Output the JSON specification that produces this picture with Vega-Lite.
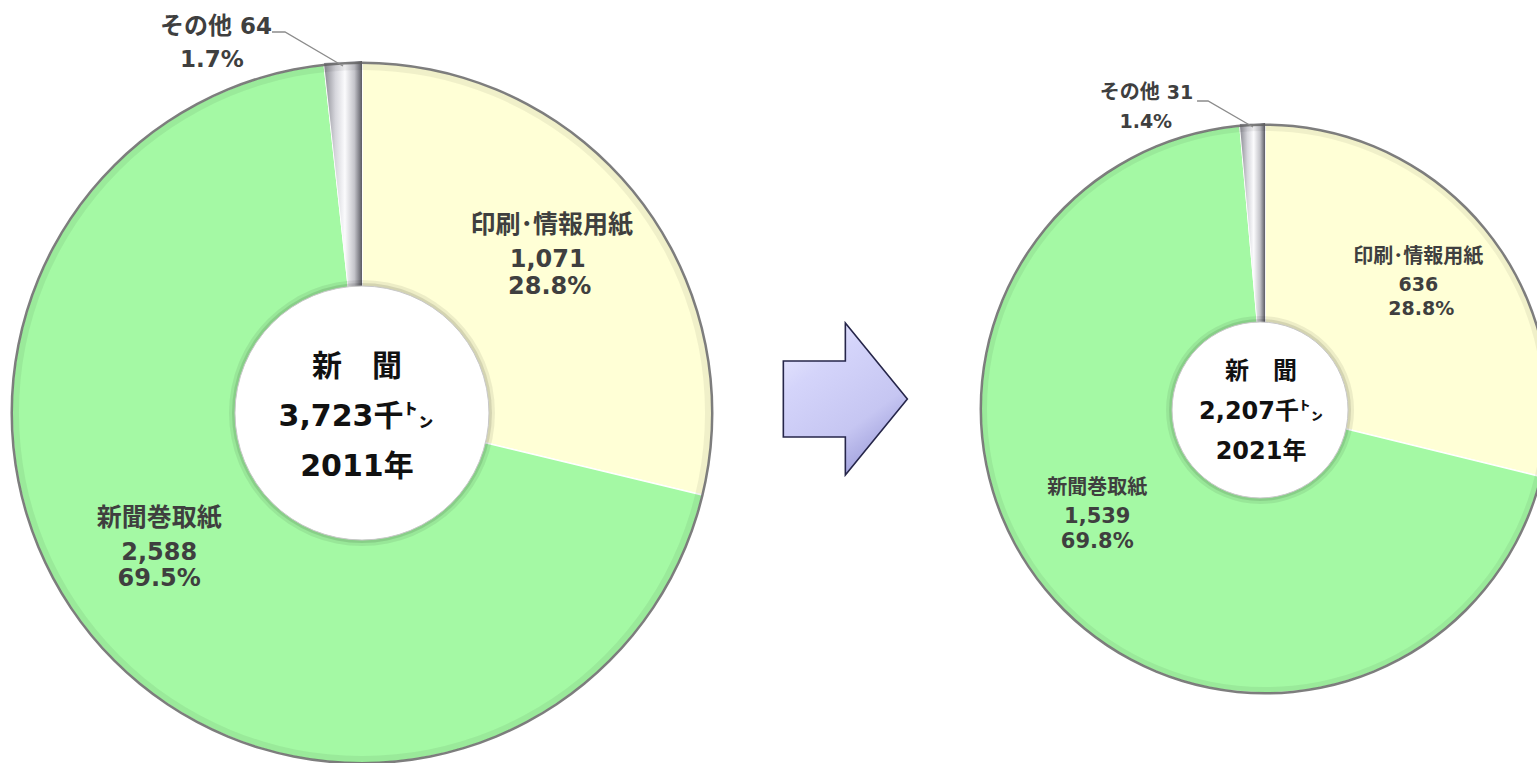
{
  "$schema": "https://vega.github.io/schema/vega-lite/v6.json",
  "width": 1537,
  "height": 700,
  "autosize": {"type": "none"},
  "padding": {"top": 63, "left": 0, "right": 0, "bottom": 0},
  "background": "#ffffff",
  "config": {"view": {"stroke": null}},
  "datasets": {
    "slices": [
      {"year": 2011, "category": "印刷･情報用紙", "value": 1071, "pct": "28.8%", "ord": 1},
      {"year": 2011, "category": "新聞巻取紙", "value": 2588, "pct": "69.5%", "ord": 2},
      {"year": 2011, "category": "その他", "value": 64, "pct": "1.7%", "ord": 3},
      {"year": 2021, "category": "印刷･情報用紙", "value": 636, "pct": "28.8%", "ord": 1},
      {"year": 2021, "category": "新聞巻取紙", "value": 1539, "pct": "69.8%", "ord": 2},
      {"year": 2021, "category": "その他", "value": 31, "pct": "1.4%", "ord": 3}
    ],
    "totals": [
      {"year": 2011, "title": "新　聞", "total": "3,723千㌧", "label": "2011年"},
      {"year": 2021, "title": "新　聞", "total": "2,207千㌧", "label": "2021年"}
    ]
  },
  "resolve": {"scale": {"x": "independent"}},
  "layer": [
    {
      "data": {"name": "slices"},
      "transform": [{"filter": "datum.year === 2011"}],
      "mark": {"type": "arc", "outerRadius": 350, "stroke": "#ffffff", "strokeWidth": 1.5},
      "encoding": {
        "x": {"field": "year", "type": "ordinal", "scale": {"type": "point", "domain": [2011, 2021], "padding": 0.351, "align": 0.571}, "axis": null},
        "theta": {"field": "value", "type": "quantitative", "stack": "normalize", "scale": {"domain": [0, 1]}},
        "order": {"field": "ord", "type": "quantitative"},
        "color": {"field": "category", "type": "nominal", "scale": {"domain": ["印刷･情報用紙", "新聞巻取紙", "その他"], "range": ["#FFFFD6", "#A4F9A4", "#DCDCE0"]}, "legend": null}
      }
    },
    {
      "data": {"name": "slices"},
      "transform": [{"filter": "datum.year === 2011"}],
      "mark": {"type": "arc", "outerRadius": 352, "fill": {"gradient": "linear", "x1": 0, "y1": 0, "x2": 1, "y2": 0, "stops": [{"offset": 0, "color": "#8a8a92"}, {"offset": 0.3, "color": "#d6d6dc"}, {"offset": 0.55, "color": "#fbfbfd"}, {"offset": 0.8, "color": "#c4c4ca"}, {"offset": 1, "color": "#5c5c64"}]}},
      "encoding": {
        "x": {"field": "year", "type": "ordinal", "scale": {"type": "point", "domain": [2011, 2021], "padding": 0.351, "align": 0.571}, "axis": null},
        "theta": {"field": "value", "type": "quantitative", "stack": "normalize", "scale": {"domain": [0, 1]}},
        "order": {"field": "ord", "type": "quantitative"},
        "detail": {"field": "category", "type": "nominal"},
        "fillOpacity": {"condition": {"test": "datum.category === 'その他'", "value": 1}, "value": 0}
      }
    },
    {
      "data": {"name": "totals"},
      "transform": [{"filter": "datum.year === 2011"}],
      "mark": {"type": "arc", "theta": 0, "theta2": 6.2832, "innerRadius": 343, "outerRadius": 350, "fill": "#000000", "fillOpacity": 0.06},
      "encoding": {"x": {"field": "year", "type": "ordinal", "scale": {"type": "point", "domain": [2011, 2021], "padding": 0.351, "align": 0.571}, "axis": null}}
    },
    {
      "data": {"name": "totals"},
      "transform": [{"filter": "datum.year === 2011"}],
      "mark": {"type": "arc", "theta": 0, "theta2": 6.2832, "innerRadius": 349, "outerRadius": 351.5, "fill": "#5e5e5e", "fillOpacity": 0.8},
      "encoding": {"x": {"field": "year", "type": "ordinal", "scale": {"type": "point", "domain": [2011, 2021], "padding": 0.351, "align": 0.571}, "axis": null}}
    },
    {
      "data": {"name": "totals"},
      "transform": [{"filter": "datum.year === 2011"}],
      "mark": {"type": "arc", "theta": 0, "theta2": 6.2832, "outerRadius": 133, "fill": "#000000", "fillOpacity": 0.07},
      "encoding": {"x": {"field": "year", "type": "ordinal", "scale": {"type": "point", "domain": [2011, 2021], "padding": 0.351, "align": 0.571}, "axis": null}}
    },
    {
      "data": {"name": "totals"},
      "transform": [{"filter": "datum.year === 2011"}],
      "mark": {"type": "arc", "theta": 0, "theta2": 6.2832, "outerRadius": 130, "fill": "#000000", "fillOpacity": 0.1},
      "encoding": {"x": {"field": "year", "type": "ordinal", "scale": {"type": "point", "domain": [2011, 2021], "padding": 0.351, "align": 0.571}, "axis": null}}
    },
    {
      "data": {"name": "totals"},
      "transform": [{"filter": "datum.year === 2011"}],
      "mark": {"type": "arc", "theta": 0, "theta2": 6.2832, "outerRadius": 127, "fill": "#ffffff", "stroke": "#c8c8c8", "strokeWidth": 1},
      "encoding": {"x": {"field": "year", "type": "ordinal", "scale": {"type": "point", "domain": [2011, 2021], "padding": 0.351, "align": 0.571}, "axis": null}}
    },
    {
      "data": {"name": "totals"},
      "transform": [{"filter": "datum.year === 2011"}],
      "mark": {"type": "text", "dx": -5, "dy": -46, "fontSize": 30, "fontWeight": "bold", "font": "DejaVu Sans, Noto Sans CJK JP", "color": "#111111", "baseline": "middle", "align": "center"},
      "encoding": {"x": {"field": "year", "type": "ordinal", "scale": {"type": "point", "domain": [2011, 2021], "padding": 0.351, "align": 0.571}, "axis": null}, "text": {"field": "title"}}
    },
    {
      "data": {"name": "totals"},
      "transform": [{"filter": "datum.year === 2011"}],
      "mark": {"type": "text", "dx": -6, "dy": 4, "fontSize": 30, "fontWeight": "bold", "font": "DejaVu Sans, Noto Sans CJK JP", "color": "#111111", "baseline": "middle", "align": "center"},
      "encoding": {"x": {"field": "year", "type": "ordinal", "scale": {"type": "point", "domain": [2011, 2021], "padding": 0.351, "align": 0.571}, "axis": null}, "text": {"field": "total"}}
    },
    {
      "data": {"name": "totals"},
      "transform": [{"filter": "datum.year === 2011"}],
      "mark": {"type": "text", "dx": -5, "dy": 54, "fontSize": 30, "fontWeight": "bold", "font": "DejaVu Sans, Noto Sans CJK JP", "color": "#111111", "baseline": "middle", "align": "center"},
      "encoding": {"x": {"field": "year", "type": "ordinal", "scale": {"type": "point", "domain": [2011, 2021], "padding": 0.351, "align": 0.571}, "axis": null}, "text": {"field": "label"}}
    },
    {
      "data": {"name": "totals"},
      "transform": [{"filter": "datum.year === 2011"}],
      "mark": {"type": "point", "shape": "M-90,-381 L-77,-381 L-19,-347", "size": 4, "filled": false, "stroke": "#8c8c8c", "strokeWidth": 1.3, "opacity": 1},
      "encoding": {"x": {"field": "year", "type": "ordinal", "scale": {"type": "point", "domain": [2011, 2021], "padding": 0.351, "align": 0.571}, "axis": null}}
    },
    {
      "data": {"name": "slices"},
      "transform": [{"filter": "datum.year === 2011"}],
      "mark": {"type": "text", "radius": 244, "dx": -2, "dy": -37, "fontSize": 25, "fontWeight": "bold", "font": "DejaVu Sans, Noto Sans CJK JP", "color": "#3f3f3f", "baseline": "middle", "align": "center"},
      "encoding": {
        "x": {"field": "year", "type": "ordinal", "scale": {"type": "point", "domain": [2011, 2021], "padding": 0.351, "align": 0.571}, "axis": null},
        "theta": {"field": "value", "type": "quantitative", "stack": "normalize", "scale": {"domain": [0, 1]}},
        "order": {"field": "ord", "type": "quantitative"},
        "detail": {"field": "category", "type": "nominal"},
        "text": {"condition": {"test": "datum.category === '印刷･情報用紙'", "field": "category", "type": "nominal"}, "value": ""}
      }
    },
    {
      "data": {"name": "slices"},
      "transform": [{"filter": "datum.year === 2011"}],
      "mark": {"type": "text", "radius": 244, "dx": -6, "dy": -2, "fontSize": 24, "fontWeight": "bold", "font": "DejaVu Sans, Noto Sans CJK JP", "color": "#3f3f3f", "baseline": "middle", "align": "center"},
      "encoding": {
        "x": {"field": "year", "type": "ordinal", "scale": {"type": "point", "domain": [2011, 2021], "padding": 0.351, "align": 0.571}, "axis": null},
        "theta": {"field": "value", "type": "quantitative", "stack": "normalize", "scale": {"domain": [0, 1]}},
        "order": {"field": "ord", "type": "quantitative"},
        "detail": {"field": "category", "type": "nominal"},
        "text": {"condition": {"test": "datum.category === '印刷･情報用紙'", "field": "value", "type": "quantitative", "format": ","}, "value": ""}
      }
    },
    {
      "data": {"name": "slices"},
      "transform": [{"filter": "datum.year === 2011"}],
      "mark": {"type": "text", "radius": 244, "dx": -4, "dy": 25, "fontSize": 24, "fontWeight": "bold", "font": "DejaVu Sans, Noto Sans CJK JP", "color": "#3f3f3f", "baseline": "middle", "align": "center"},
      "encoding": {
        "x": {"field": "year", "type": "ordinal", "scale": {"type": "point", "domain": [2011, 2021], "padding": 0.351, "align": 0.571}, "axis": null},
        "theta": {"field": "value", "type": "quantitative", "stack": "normalize", "scale": {"domain": [0, 1]}},
        "order": {"field": "ord", "type": "quantitative"},
        "detail": {"field": "category", "type": "nominal"},
        "text": {"condition": {"test": "datum.category === '印刷･情報用紙'", "field": "pct", "type": "nominal"}, "value": ""}
      }
    },
    {
      "data": {"name": "slices"},
      "transform": [{"filter": "datum.year === 2011"}],
      "mark": {"type": "text", "radius": 242, "dx": -21, "dy": -55, "fontSize": 25, "fontWeight": "bold", "font": "DejaVu Sans, Noto Sans CJK JP", "color": "#3f3f3f", "baseline": "middle", "align": "center"},
      "encoding": {
        "x": {"field": "year", "type": "ordinal", "scale": {"type": "point", "domain": [2011, 2021], "padding": 0.351, "align": 0.571}, "axis": null},
        "theta": {"field": "value", "type": "quantitative", "stack": "normalize", "scale": {"domain": [0, 1]}},
        "order": {"field": "ord", "type": "quantitative"},
        "detail": {"field": "category", "type": "nominal"},
        "text": {"condition": {"test": "datum.category === '新聞巻取紙'", "field": "category", "type": "nominal"}, "value": ""}
      }
    },
    {
      "data": {"name": "slices"},
      "transform": [{"filter": "datum.year === 2011"}],
      "mark": {"type": "text", "radius": 242, "dx": -21, "dy": -20, "fontSize": 24, "fontWeight": "bold", "font": "DejaVu Sans, Noto Sans CJK JP", "color": "#3f3f3f", "baseline": "middle", "align": "center"},
      "encoding": {
        "x": {"field": "year", "type": "ordinal", "scale": {"type": "point", "domain": [2011, 2021], "padding": 0.351, "align": 0.571}, "axis": null},
        "theta": {"field": "value", "type": "quantitative", "stack": "normalize", "scale": {"domain": [0, 1]}},
        "order": {"field": "ord", "type": "quantitative"},
        "detail": {"field": "category", "type": "nominal"},
        "text": {"condition": {"test": "datum.category === '新聞巻取紙'", "field": "value", "type": "quantitative", "format": ","}, "value": ""}
      }
    },
    {
      "data": {"name": "slices"},
      "transform": [{"filter": "datum.year === 2011"}],
      "mark": {"type": "text", "radius": 242, "dx": -21, "dy": 6, "fontSize": 24, "fontWeight": "bold", "font": "DejaVu Sans, Noto Sans CJK JP", "color": "#3f3f3f", "baseline": "middle", "align": "center"},
      "encoding": {
        "x": {"field": "year", "type": "ordinal", "scale": {"type": "point", "domain": [2011, 2021], "padding": 0.351, "align": 0.571}, "axis": null},
        "theta": {"field": "value", "type": "quantitative", "stack": "normalize", "scale": {"domain": [0, 1]}},
        "order": {"field": "ord", "type": "quantitative"},
        "detail": {"field": "category", "type": "nominal"},
        "text": {"condition": {"test": "datum.category === '新聞巻取紙'", "field": "pct", "type": "nominal"}, "value": ""}
      }
    },
    {
      "data": {"name": "slices"},
      "transform": [{"filter": "datum.year === 2011"}],
      "mark": {"type": "text", "radius": 370, "dx": -110, "dy": -17, "fontSize": 24, "fontWeight": "bold", "font": "DejaVu Sans, Noto Sans CJK JP", "color": "#3f3f3f", "baseline": "middle", "align": "right"},
      "encoding": {
        "x": {"field": "year", "type": "ordinal", "scale": {"type": "point", "domain": [2011, 2021], "padding": 0.351, "align": 0.571}, "axis": null},
        "theta": {"field": "value", "type": "quantitative", "stack": "normalize", "scale": {"domain": [0, 1]}},
        "order": {"field": "ord", "type": "quantitative"},
        "detail": {"field": "category", "type": "nominal"},
        "text": {"condition": {"test": "datum.category === 'その他'", "field": "category", "type": "nominal"}, "value": ""}
      }
    },
    {
      "data": {"name": "slices"},
      "transform": [{"filter": "datum.year === 2011"}],
      "mark": {"type": "text", "radius": 370, "dx": -102, "dy": -17, "fontSize": 23, "fontWeight": "bold", "font": "DejaVu Sans, Noto Sans CJK JP", "color": "#3f3f3f", "baseline": "middle", "align": "left"},
      "encoding": {
        "x": {"field": "year", "type": "ordinal", "scale": {"type": "point", "domain": [2011, 2021], "padding": 0.351, "align": 0.571}, "axis": null},
        "theta": {"field": "value", "type": "quantitative", "stack": "normalize", "scale": {"domain": [0, 1]}},
        "order": {"field": "ord", "type": "quantitative"},
        "detail": {"field": "category", "type": "nominal"},
        "text": {"condition": {"test": "datum.category === 'その他'", "field": "value", "type": "quantitative", "format": ","}, "value": ""}
      }
    },
    {
      "data": {"name": "slices"},
      "transform": [{"filter": "datum.year === 2011"}],
      "mark": {"type": "text", "radius": 370, "dx": -130, "dy": 16, "fontSize": 23, "fontWeight": "bold", "font": "DejaVu Sans, Noto Sans CJK JP", "color": "#3f3f3f", "baseline": "middle", "align": "center"},
      "encoding": {
        "x": {"field": "year", "type": "ordinal", "scale": {"type": "point", "domain": [2011, 2021], "padding": 0.351, "align": 0.571}, "axis": null},
        "theta": {"field": "value", "type": "quantitative", "stack": "normalize", "scale": {"domain": [0, 1]}},
        "order": {"field": "ord", "type": "quantitative"},
        "detail": {"field": "category", "type": "nominal"},
        "text": {"condition": {"test": "datum.category === 'その他'", "field": "pct", "type": "nominal"}, "value": ""}
      }
    },
    {
      "data": {"name": "slices"},
      "transform": [{"filter": "datum.year === 2021"}],
      "mark": {"type": "arc", "outerRadius": 284, "yOffset": -4, "stroke": "#ffffff", "strokeWidth": 1.5},
      "encoding": {
        "x": {"field": "year", "type": "ordinal", "scale": {"type": "point", "domain": [2011, 2021], "padding": 0.351, "align": 0.571}, "axis": null},
        "theta": {"field": "value", "type": "quantitative", "stack": "normalize", "scale": {"domain": [0, 1]}},
        "order": {"field": "ord", "type": "quantitative"},
        "color": {"field": "category", "type": "nominal", "scale": {"domain": ["印刷･情報用紙", "新聞巻取紙", "その他"], "range": ["#FFFFD6", "#A4F9A4", "#DCDCE0"]}, "legend": null}
      }
    },
    {
      "data": {"name": "slices"},
      "transform": [{"filter": "datum.year === 2021"}],
      "mark": {"type": "arc", "outerRadius": 286, "yOffset": -4, "fill": {"gradient": "linear", "x1": 0, "y1": 0, "x2": 1, "y2": 0, "stops": [{"offset": 0, "color": "#8a8a92"}, {"offset": 0.3, "color": "#d6d6dc"}, {"offset": 0.55, "color": "#fbfbfd"}, {"offset": 0.8, "color": "#c4c4ca"}, {"offset": 1, "color": "#5c5c64"}]}},
      "encoding": {
        "x": {"field": "year", "type": "ordinal", "scale": {"type": "point", "domain": [2011, 2021], "padding": 0.351, "align": 0.571}, "axis": null},
        "theta": {"field": "value", "type": "quantitative", "stack": "normalize", "scale": {"domain": [0, 1]}},
        "order": {"field": "ord", "type": "quantitative"},
        "detail": {"field": "category", "type": "nominal"},
        "fillOpacity": {"condition": {"test": "datum.category === 'その他'", "value": 1}, "value": 0}
      }
    },
    {
      "data": {"name": "totals"},
      "transform": [{"filter": "datum.year === 2021"}],
      "mark": {"type": "arc", "theta": 0, "theta2": 6.2832, "innerRadius": 278, "outerRadius": 284, "yOffset": -4, "fill": "#000000", "fillOpacity": 0.06},
      "encoding": {"x": {"field": "year", "type": "ordinal", "scale": {"type": "point", "domain": [2011, 2021], "padding": 0.351, "align": 0.571}, "axis": null}}
    },
    {
      "data": {"name": "totals"},
      "transform": [{"filter": "datum.year === 2021"}],
      "mark": {"type": "arc", "theta": 0, "theta2": 6.2832, "innerRadius": 283, "outerRadius": 285.5, "yOffset": -4, "fill": "#5e5e5e", "fillOpacity": 0.8},
      "encoding": {"x": {"field": "year", "type": "ordinal", "scale": {"type": "point", "domain": [2011, 2021], "padding": 0.351, "align": 0.571}, "axis": null}}
    },
    {
      "data": {"name": "totals"},
      "transform": [{"filter": "datum.year === 2021"}],
      "mark": {"type": "arc", "theta": 0, "theta2": 6.2832, "outerRadius": 94, "xOffset": -5, "yOffset": -3, "fill": "#000000", "fillOpacity": 0.07},
      "encoding": {"x": {"field": "year", "type": "ordinal", "scale": {"type": "point", "domain": [2011, 2021], "padding": 0.351, "align": 0.571}, "axis": null}}
    },
    {
      "data": {"name": "totals"},
      "transform": [{"filter": "datum.year === 2021"}],
      "mark": {"type": "arc", "theta": 0, "theta2": 6.2832, "outerRadius": 91, "xOffset": -5, "yOffset": -3, "fill": "#000000", "fillOpacity": 0.1},
      "encoding": {"x": {"field": "year", "type": "ordinal", "scale": {"type": "point", "domain": [2011, 2021], "padding": 0.351, "align": 0.571}, "axis": null}}
    },
    {
      "data": {"name": "totals"},
      "transform": [{"filter": "datum.year === 2021"}],
      "mark": {"type": "arc", "theta": 0, "theta2": 6.2832, "outerRadius": 88, "xOffset": -5, "yOffset": -3, "fill": "#ffffff", "stroke": "#c8c8c8", "strokeWidth": 1},
      "encoding": {"x": {"field": "year", "type": "ordinal", "scale": {"type": "point", "domain": [2011, 2021], "padding": 0.351, "align": 0.571}, "axis": null}}
    },
    {
      "data": {"name": "totals"},
      "transform": [{"filter": "datum.year === 2021"}],
      "mark": {"type": "text", "dx": -4, "dy": -41, "fontSize": 24, "fontWeight": "bold", "font": "DejaVu Sans, Noto Sans CJK JP", "color": "#111111", "baseline": "middle", "align": "center"},
      "encoding": {"x": {"field": "year", "type": "ordinal", "scale": {"type": "point", "domain": [2011, 2021], "padding": 0.351, "align": 0.571}, "axis": null}, "text": {"field": "title"}}
    },
    {
      "data": {"name": "totals"},
      "transform": [{"filter": "datum.year === 2021"}],
      "mark": {"type": "text", "dx": -4, "dy": -1, "fontSize": 24, "fontWeight": "bold", "font": "DejaVu Sans, Noto Sans CJK JP", "color": "#111111", "baseline": "middle", "align": "center"},
      "encoding": {"x": {"field": "year", "type": "ordinal", "scale": {"type": "point", "domain": [2011, 2021], "padding": 0.351, "align": 0.571}, "axis": null}, "text": {"field": "total"}}
    },
    {
      "data": {"name": "totals"},
      "transform": [{"filter": "datum.year === 2021"}],
      "mark": {"type": "text", "dx": -4, "dy": 39, "fontSize": 24, "fontWeight": "bold", "font": "DejaVu Sans, Noto Sans CJK JP", "color": "#111111", "baseline": "middle", "align": "center"},
      "encoding": {"x": {"field": "year", "type": "ordinal", "scale": {"type": "point", "domain": [2011, 2021], "padding": 0.351, "align": 0.571}, "axis": null}, "text": {"field": "label"}}
    },
    {
      "data": {"name": "totals"},
      "transform": [{"filter": "datum.year === 2021"}],
      "mark": {"type": "point", "shape": "M-68,-312 L-57,-312 L-12,-286", "size": 4, "filled": false, "stroke": "#8c8c8c", "strokeWidth": 1.3, "opacity": 1},
      "encoding": {"x": {"field": "year", "type": "ordinal", "scale": {"type": "point", "domain": [2011, 2021], "padding": 0.351, "align": 0.571}, "axis": null}}
    },
    {
      "data": {"name": "slices"},
      "transform": [{"filter": "datum.year === 2021"}],
      "mark": {"type": "text", "radius": 196, "dx": -1, "dy": -35, "fontSize": 20, "fontWeight": "bold", "font": "DejaVu Sans, Noto Sans CJK JP", "color": "#3f3f3f", "baseline": "middle", "align": "center"},
      "encoding": {
        "x": {"field": "year", "type": "ordinal", "scale": {"type": "point", "domain": [2011, 2021], "padding": 0.351, "align": 0.571}, "axis": null},
        "theta": {"field": "value", "type": "quantitative", "stack": "normalize", "scale": {"domain": [0, 1]}},
        "order": {"field": "ord", "type": "quantitative"},
        "detail": {"field": "category", "type": "nominal"},
        "text": {"condition": {"test": "datum.category === '印刷･情報用紙'", "field": "category", "type": "nominal"}, "value": ""}
      }
    },
    {
      "data": {"name": "slices"},
      "transform": [{"filter": "datum.year === 2021"}],
      "mark": {"type": "text", "radius": 196, "dx": -1, "dy": -7, "fontSize": 19, "fontWeight": "bold", "font": "DejaVu Sans, Noto Sans CJK JP", "color": "#3f3f3f", "baseline": "middle", "align": "center"},
      "encoding": {
        "x": {"field": "year", "type": "ordinal", "scale": {"type": "point", "domain": [2011, 2021], "padding": 0.351, "align": 0.571}, "axis": null},
        "theta": {"field": "value", "type": "quantitative", "stack": "normalize", "scale": {"domain": [0, 1]}},
        "order": {"field": "ord", "type": "quantitative"},
        "detail": {"field": "category", "type": "nominal"},
        "text": {"condition": {"test": "datum.category === '印刷･情報用紙'", "field": "value", "type": "quantitative", "format": ","}, "value": ""}
      }
    },
    {
      "data": {"name": "slices"},
      "transform": [{"filter": "datum.year === 2021"}],
      "mark": {"type": "text", "radius": 196, "dx": 2, "dy": 17, "fontSize": 19, "fontWeight": "bold", "font": "DejaVu Sans, Noto Sans CJK JP", "color": "#3f3f3f", "baseline": "middle", "align": "center"},
      "encoding": {
        "x": {"field": "year", "type": "ordinal", "scale": {"type": "point", "domain": [2011, 2021], "padding": 0.351, "align": 0.571}, "axis": null},
        "theta": {"field": "value", "type": "quantitative", "stack": "normalize", "scale": {"domain": [0, 1]}},
        "order": {"field": "ord", "type": "quantitative"},
        "detail": {"field": "category", "type": "nominal"},
        "text": {"condition": {"test": "datum.category === '印刷･情報用紙'", "field": "pct", "type": "nominal"}, "value": ""}
      }
    },
    {
      "data": {"name": "slices"},
      "transform": [{"filter": "datum.year === 2021"}],
      "mark": {"type": "text", "radius": 200, "dx": -16, "dy": -55, "fontSize": 20, "fontWeight": "bold", "font": "DejaVu Sans, Noto Sans CJK JP", "color": "#3f3f3f", "baseline": "middle", "align": "center"},
      "encoding": {
        "x": {"field": "year", "type": "ordinal", "scale": {"type": "point", "domain": [2011, 2021], "padding": 0.351, "align": 0.571}, "axis": null},
        "theta": {"field": "value", "type": "quantitative", "stack": "normalize", "scale": {"domain": [0, 1]}},
        "order": {"field": "ord", "type": "quantitative"},
        "detail": {"field": "category", "type": "nominal"},
        "text": {"condition": {"test": "datum.category === '新聞巻取紙'", "field": "category", "type": "nominal"}, "value": ""}
      }
    },
    {
      "data": {"name": "slices"},
      "transform": [{"filter": "datum.year === 2021"}],
      "mark": {"type": "text", "radius": 200, "dx": -16, "dy": -26, "fontSize": 21, "fontWeight": "bold", "font": "DejaVu Sans, Noto Sans CJK JP", "color": "#3f3f3f", "baseline": "middle", "align": "center"},
      "encoding": {
        "x": {"field": "year", "type": "ordinal", "scale": {"type": "point", "domain": [2011, 2021], "padding": 0.351, "align": 0.571}, "axis": null},
        "theta": {"field": "value", "type": "quantitative", "stack": "normalize", "scale": {"domain": [0, 1]}},
        "order": {"field": "ord", "type": "quantitative"},
        "detail": {"field": "category", "type": "nominal"},
        "text": {"condition": {"test": "datum.category === '新聞巻取紙'", "field": "value", "type": "quantitative", "format": ","}, "value": ""}
      }
    },
    {
      "data": {"name": "slices"},
      "transform": [{"filter": "datum.year === 2021"}],
      "mark": {"type": "text", "radius": 200, "dx": -16, "dy": -1, "fontSize": 21, "fontWeight": "bold", "font": "DejaVu Sans, Noto Sans CJK JP", "color": "#3f3f3f", "baseline": "middle", "align": "center"},
      "encoding": {
        "x": {"field": "year", "type": "ordinal", "scale": {"type": "point", "domain": [2011, 2021], "padding": 0.351, "align": 0.571}, "axis": null},
        "theta": {"field": "value", "type": "quantitative", "stack": "normalize", "scale": {"domain": [0, 1]}},
        "order": {"field": "ord", "type": "quantitative"},
        "detail": {"field": "category", "type": "nominal"},
        "text": {"condition": {"test": "datum.category === '新聞巻取紙'", "field": "pct", "type": "nominal"}, "value": ""}
      }
    },
    {
      "data": {"name": "slices"},
      "transform": [{"filter": "datum.year === 2021"}],
      "mark": {"type": "text", "radius": 300, "dx": -92, "dy": -20, "fontSize": 20, "fontWeight": "bold", "font": "DejaVu Sans, Noto Sans CJK JP", "color": "#3f3f3f", "baseline": "middle", "align": "right"},
      "encoding": {
        "x": {"field": "year", "type": "ordinal", "scale": {"type": "point", "domain": [2011, 2021], "padding": 0.351, "align": 0.571}, "axis": null},
        "theta": {"field": "value", "type": "quantitative", "stack": "normalize", "scale": {"domain": [0, 1]}},
        "order": {"field": "ord", "type": "quantitative"},
        "detail": {"field": "category", "type": "nominal"},
        "text": {"condition": {"test": "datum.category === 'その他'", "field": "category", "type": "nominal"}, "value": ""}
      }
    },
    {
      "data": {"name": "slices"},
      "transform": [{"filter": "datum.year === 2021"}],
      "mark": {"type": "text", "radius": 300, "dx": -85, "dy": -20, "fontSize": 19, "fontWeight": "bold", "font": "DejaVu Sans, Noto Sans CJK JP", "color": "#3f3f3f", "baseline": "middle", "align": "left"},
      "encoding": {
        "x": {"field": "year", "type": "ordinal", "scale": {"type": "point", "domain": [2011, 2021], "padding": 0.351, "align": 0.571}, "axis": null},
        "theta": {"field": "value", "type": "quantitative", "stack": "normalize", "scale": {"domain": [0, 1]}},
        "order": {"field": "ord", "type": "quantitative"},
        "detail": {"field": "category", "type": "nominal"},
        "text": {"condition": {"test": "datum.category === 'その他'", "field": "value", "type": "quantitative", "format": ","}, "value": ""}
      }
    },
    {
      "data": {"name": "slices"},
      "transform": [{"filter": "datum.year === 2021"}],
      "mark": {"type": "text", "radius": 300, "dx": -106, "dy": 9, "fontSize": 19, "fontWeight": "bold", "font": "DejaVu Sans, Noto Sans CJK JP", "color": "#3f3f3f", "baseline": "middle", "align": "center"},
      "encoding": {
        "x": {"field": "year", "type": "ordinal", "scale": {"type": "point", "domain": [2011, 2021], "padding": 0.351, "align": 0.571}, "axis": null},
        "theta": {"field": "value", "type": "quantitative", "stack": "normalize", "scale": {"domain": [0, 1]}},
        "order": {"field": "ord", "type": "quantitative"},
        "detail": {"field": "category", "type": "nominal"},
        "text": {"condition": {"test": "datum.category === 'その他'", "field": "pct", "type": "nominal"}, "value": ""}
      }
    },
    {
      "data": {"values": [{"item": "arrow"}]},
      "mark": {"type": "point", "shape": "M-0.816,-0.5 L0,-0.5 L0,-1 L0.816,0 L0,1 L0,0.5 L-0.816,0.5 Z", "size": 23104, "filled": true, "opacity": 1, "yOffset": -14, "fill": {"gradient": "linear", "x1": 0, "y1": 0, "x2": 0.6, "y2": 1, "stops": [{"offset": 0, "color": "#EEEEFF"}, {"offset": 0.35, "color": "#D4D4FA"}, {"offset": 0.75, "color": "#C6C6F2"}, {"offset": 1, "color": "#A0A0DC"}]}, "stroke": "#26264a", "strokeWidth": 1.6},
      "encoding": {"x": {"datum": 2016.35, "type": "quantitative", "scale": {"domain": [2007, 2024]}, "axis": null}}
    }
  ]
}
